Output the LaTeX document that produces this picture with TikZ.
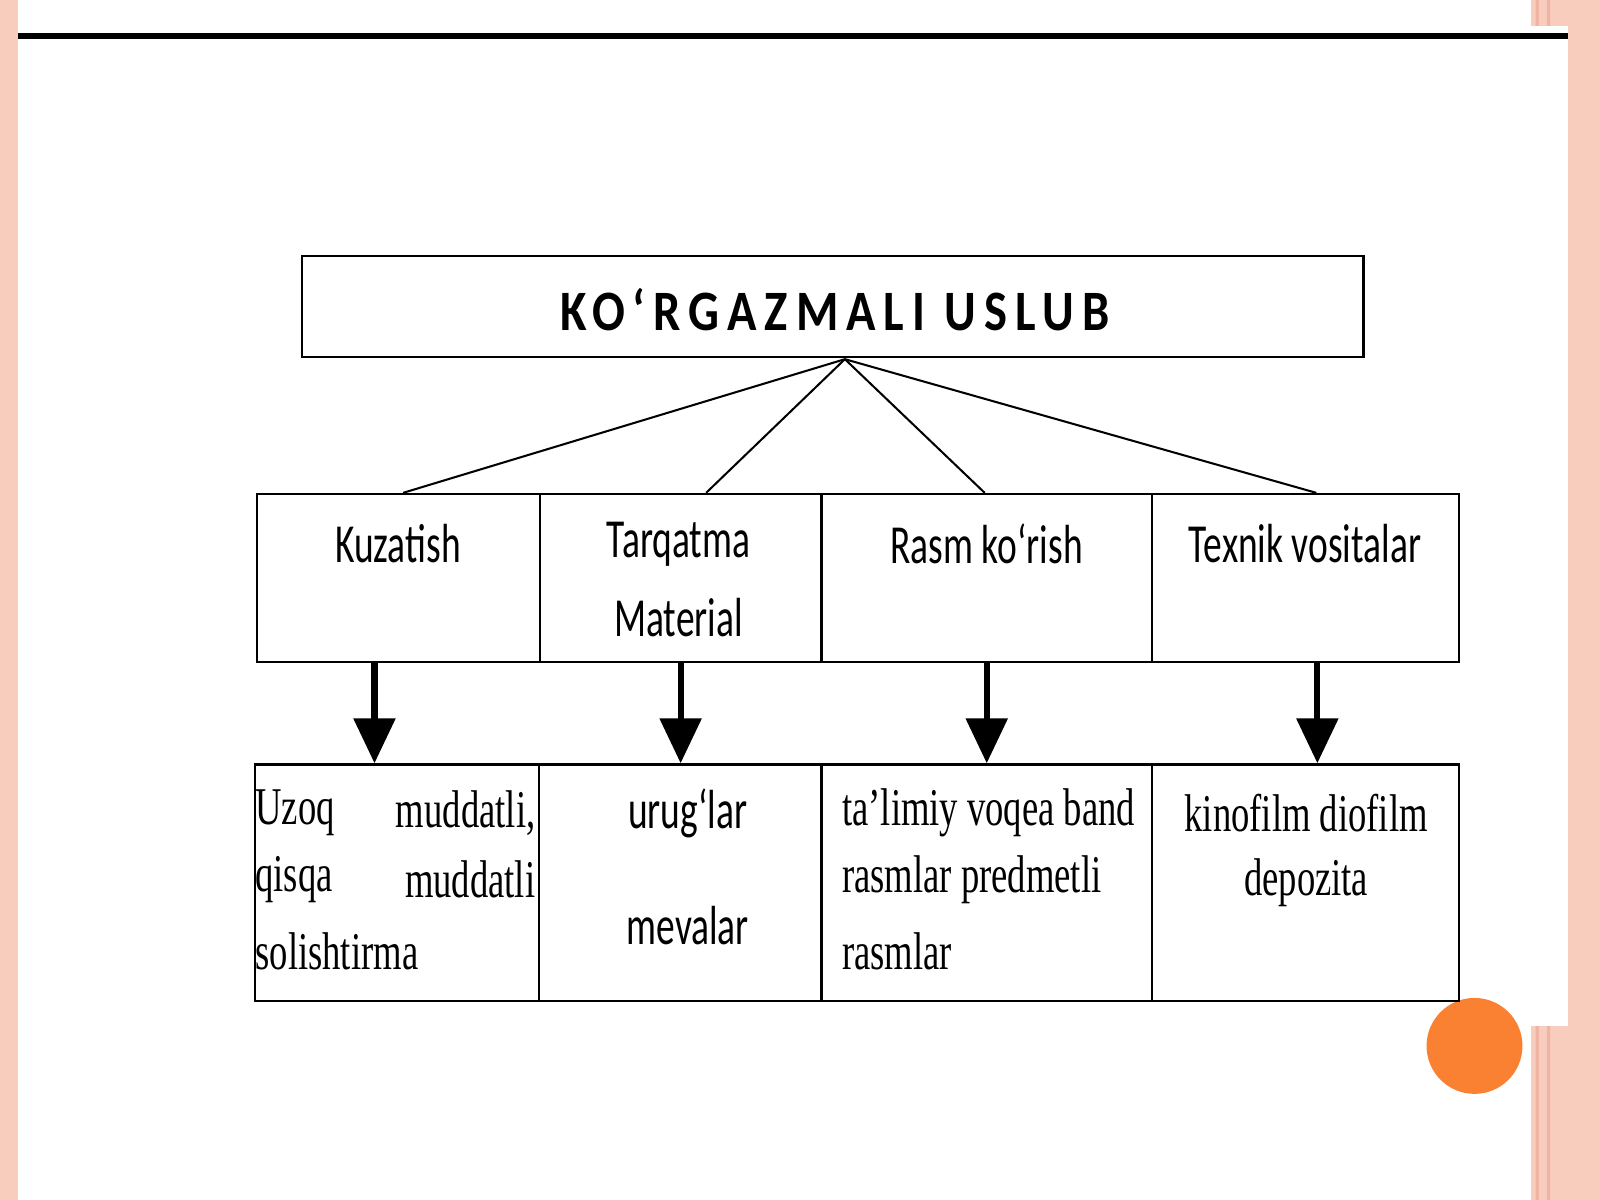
\documentclass[tikz,border=0pt]{standalone}
\usepackage{fontspec}
\setmainfont{Liberation Serif}
\newfontfamily\myCal[FakeStretch=0.68]{Carlito}
\newfontfamily\myCalT[LetterSpace=14,FakeStretch=0.85]{Carlito}
\newfontfamily\myTms[FakeStretch=0.69]{Liberation Serif}
\usetikzlibrary{arrows.meta}
\begin{document}
\begin{tikzpicture}[x=0.5pt,y=-0.5pt,
 bx/.style={draw,line width=1.2pt},
 sl/.style={font=\myCal\fontsize{27}{30}\selectfont,inner sep=0pt},
 tl/.style={font=\myTms\fontsize{26}{30}\selectfont,inner sep=0pt},
 ln/.style={line width=1pt},
 ar/.style={line width=3pt,-{Triangle[width=20pt,length=22pt]}}]
\useasboundingbox (0,0) rectangle (1568,1176);
\fill[fill={rgb,255:red,248;green,205;blue,190}] (0,0) rectangle (1568,1176);
\fill[white] (18,0) rectangle (1500,1176);
\fill[fill={rgb,255:red,240;green,180;blue,165}] (1505,0) rectangle (1508,1176) (1516,0) rectangle (1519,1176);
\fill[white] (1500,25) rectangle (1537,1005);
\draw[line width=3pt] (18,35) -- (1537,35);
\fill[fill={rgb,255:red,250;green,128;blue,50}] (1445,1025) circle (47);
% top
\node[bx,minimum width=520pt,minimum height=49.5pt,inner sep=0pt] (top) at (816,300.5) {};
\node[font=\myCalT\bfseries\fontsize{28}{30}\selectfont] (tt) at (818,303) {KO‘RGAZMALI USLUB};
\coordinate (apex) at (828,352);
% middle
\node[bx,minimum width=138.5pt,minimum height=82.5pt,inner sep=0pt] (m1) at (390.5,566.5) {};
\node[bx,minimum width=138pt,minimum height=82.5pt,inner sep=0pt] (m2) at (667,566.5) {};
\node[bx,minimum width=162pt,minimum height=82.5pt,inner sep=0pt] (m3) at (967,566.5) {};
\node[bx,minimum width=150.5pt,minimum height=82.5pt,inner sep=0pt] (m4) at (1279.5,566.5) {};
\node[sl] (k) at (390,533) {Kuzatish};
\node[sl] (t1) at (665,533) {Tarqatma};
\node[sl] (t2) at (665,605) {Material};
\node[sl] (r) at (967,533) {Rasm ko‘rish};
\node[sl] (tv) at (1279,533) {Texnik vositalar};
\coordinate (c1) at (395,483); \coordinate (c2) at (692,483);
\coordinate (c3) at (965,483); \coordinate (c4) at (1290,483);
\foreach \c in {c1,c2,c3,c4} \draw[ln] (apex) -- (\c);
% bottom
\node[bx,minimum width=139pt,minimum height=116pt,inner sep=0pt] (b1) at (389,865) {};
\node[bx,minimum width=138.5pt,minimum height=116pt,inner sep=0pt] (b2) at (666.5,865) {};
\node[bx,minimum width=162pt,minimum height=116pt,inner sep=0pt] (b3) at (967,865) {};
\node[bx,minimum width=150.5pt,minimum height=116pt,inner sep=0pt] (b4) at (1279.5,865) {};
\foreach \x/\y in {367/a1, 667/a2, 967/a3, 1291/a4}
 {\coordinate (\y s) at (\x,650); \coordinate (\y e) at (\x,748);}
\foreach \n in {a1,a2,a3,a4} \draw[ar] (\n s) -- (\n e);
\node[tl,anchor=west] (u1) at (250,797) {Uzoq};
\node[tl,anchor=east] (u2) at (525,797) {muddatli,};
\node[tl,anchor=west] (u3) at (250,862) {qisqa};
\node[tl,anchor=east] (u4) at (525,862) {muddatli};
\node[tl,anchor=west] (u5) at (250,932) {solishtirma};
\node[sl] (ur) at (674,797) {urug‘lar};
\node[sl] (mv) at (674,907) {mevalar};
\node[tl,anchor=west] (v1) at (825,797) {ta’limiy voqea band};
\node[tl,anchor=west] (v2) at (825,862) {rasmlar predmetli};
\node[tl,anchor=west] (v3) at (825,932) {rasmlar};
\node[tl] (f1) at (1280,797) {kinofilm diofilm};
\node[tl] (f2) at (1280,865) {depozita};
\end{tikzpicture}
\end{document}
